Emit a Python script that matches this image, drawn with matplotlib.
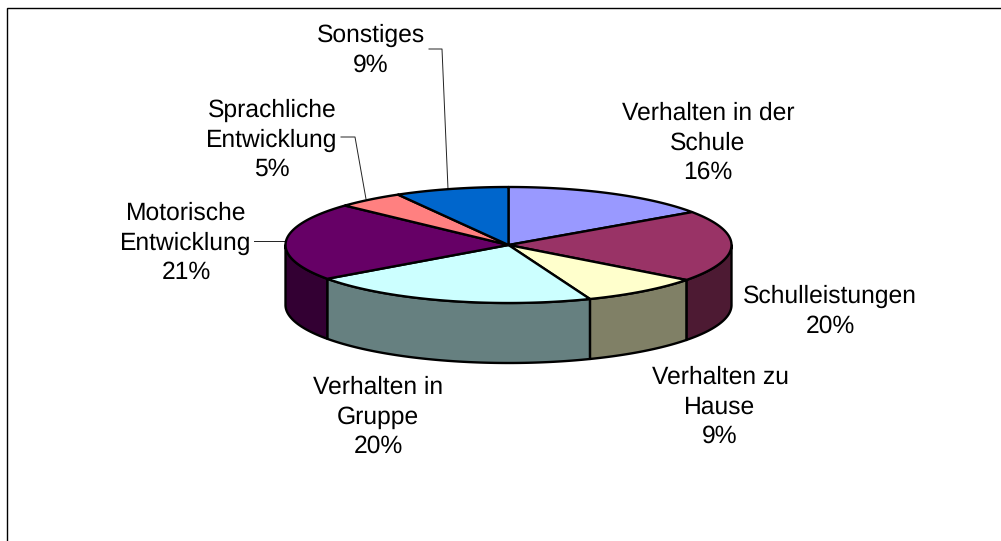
import numpy as np
import matplotlib
matplotlib.use("Agg")
import matplotlib.pyplot as plt
from matplotlib.patches import Polygon

W, H = 1001, 541

categories = ["Verhalten in der\nSchule", "Schulleistungen", "Verhalten zu\nHause", "Verhalten in\nGruppe",
              "Motorische\nEntwicklung", "Sprachliche\nEntwicklung", "Sonstiges"]
percent_labels = [16, 20, 9, 20, 21, 5, 9]
# slice sizes as drawn in the picture, the 3D view shifts them a bit from the printed percentages
drawn_shares = [15.4, 19.9, 8.75, 21.05, 21.8, 4.85, 8.25]
top_colors = ["#9999FF", "#993366", "#FFFFCC", "#CCFFFF", "#660066", "#FF8080", "#0066CC"]
side_colors = ["#666699", "#4D1A33", "#808066", "#668080", "#330033", "#804040", "#003366"]

# label centres in pixels, same order as categories
label_pos = [(708, 143), (830, 311), (720, 407), (378, 417), (186, 243), (272, 140), (371, 50)]

cx, cy = 508.5, 245
rx, ry = 223, 58
depth = 60

plt.rcParams["font.family"] = ["Liberation Sans", "DejaVu Sans"]
plt.rcParams["text.hinting"] = "no_hinting"
fig = plt.figure(figsize=(W / 100, H / 100), dpi=100)
ax = fig.add_axes([0, 0, 1, 1])
ax.set_xlim(0, W)
ax.set_ylim(H, 0)
ax.axis("off")

# outer frame, only the top and left edges are inside the crop
ax.plot([6.5, 6.5, W], [H, 7.5, 7.5], color="black", lw=1.0, solid_joinstyle="miter")


def rim(a):
    # a is measured clockwise from the top of the pie, in degrees
    t = np.radians(a)
    return cx + rx * np.sin(t), cy - ry * np.cos(t)


edges = np.concatenate([[0], np.cumsum(drawn_shares)]) / np.sum(drawn_shares) * 360

# side walls, only the front half (90..270 deg region) can be seen
for i in range(len(drawn_shares)):
    a0, a1 = max(edges[i], 90), min(edges[i + 1], 270)
    if a1 <= a0:
        continue
    aa = np.linspace(a0, a1, 80)
    xs, ys = rim(aa)
    pts = np.vstack([np.c_[xs, ys], np.c_[xs[::-1], ys[::-1] + depth]])
    ax.add_patch(Polygon(pts, closed=True, fc=side_colors[i], ec="black", lw=1.7, joinstyle="round", zorder=2))

# top face
for i in range(len(drawn_shares)):
    aa = np.linspace(edges[i], edges[i + 1], 120)
    xs, ys = rim(aa)
    pts = np.vstack([[cx, cy], np.c_[xs, ys]])
    ax.add_patch(Polygon(pts, closed=True, fc=top_colors[i], ec="black", lw=1.7, joinstyle="round", zorder=3))

for i, name in enumerate(categories):
    ax.text(label_pos[i][0], label_pos[i][1], f"{name}\n{percent_labels[i]}%", ha="center", va="center",
            fontsize=17.7, linespacing=1.35, color="black", zorder=5)

# leader lines
ax.plot([254, 285], [241, 241], color="#222222", lw=0.7, zorder=1)
ax.plot([341, 355, 366], [137, 137, 199], color="#222222", lw=0.7, zorder=1)
ax.plot([429, 442, 448], [49, 49, 189], color="#222222", lw=0.7, zorder=1)

fig.savefig("out.png", dpi=100, facecolor="white")
